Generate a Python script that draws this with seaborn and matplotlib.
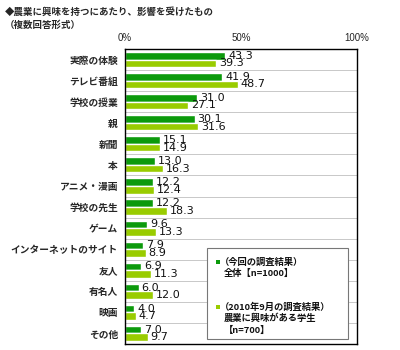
import matplotlib
matplotlib.use("Agg")
import matplotlib.pyplot as plt
import seaborn as sns
import pandas as pd
from matplotlib.patches import Rectangle

categories = ["実際の体験", "テレビ番組", "学校の授業", "親", "新聞", "本", "アニメ・漫画",
              "学校の先生", "ゲーム", "インターネットのサイト", "友人", "有名人", "映画", "その他"]
current = [43.3, 41.9, 31.0, 30.1, 15.1, 13.0, 12.2, 12.2, 9.6, 7.9, 6.9, 6.0, 4.0, 7.0]
previous = [39.3, 48.7, 27.1, 31.6, 14.9, 16.3, 12.4, 18.3, 13.3, 8.9, 11.3, 12.0, 4.7, 9.7]
series_names = ["（今回の調査結果）\n全体【n=1000】",
                "（2010年9月の調査結果）\n農業に興味がある学生\n【n=700】"]
xticks = [0, 50, 100]
xticklabels = ["0%", "50%", "100%"]

sns.set_theme(style="white")
plt.rcParams["font.family"] = ["Noto Sans CJK JP", "DejaVu Sans"]

df = pd.DataFrame({
    "category": categories * 2,
    "value": current + previous,
    "series": [series_names[0]] * len(categories) + [series_names[1]] * len(categories),
})

colors = ["#0C9A0C", "#99CC00"]

W, H = 400, 350
fig = plt.figure(figsize=(4, 3.5), dpi=100)
ax_l, ax_r, ax_t, ax_b = 125, 357, 49, 344
ax = fig.add_axes([ax_l / W, 1 - ax_b / H, (ax_r - ax_l) / W, (ax_b - ax_t) / H])

sns.barplot(data=df, y="category", x="value", hue="series", orient="h",
            palette=colors, width=0.72, ax=ax, legend=False, saturation=1)

for cont in ax.containers:
    ax.bar_label(cont, fmt="%.1f", padding=2, fontsize=8, color="#111111",
                 family="DejaVu Sans")

ax.set_xlim(0, 100)
ax.set_ylim(len(categories) - 0.5, -0.5)
ax.set_xticks(xticks)
ax.set_xticklabels(xticklabels, fontsize=7, family="Liberation Sans")
ax.xaxis.tick_top()
ax.tick_params(axis="x", length=0, pad=4)
ax.tick_params(axis="y", length=0, pad=5)
for lbl in ax.get_yticklabels():
    lbl.set_fontsize(7)
    lbl.set_fontweight("bold")
ax.set_xlabel("")
ax.set_ylabel("")

for i in range(1, len(categories)):
    ax.axhline(i - 0.5, color="#C8C8C8", lw=0.7, zorder=0)

for s in ax.spines.values():
    s.set_visible(True)
    s.set_color("black")
    s.set_linewidth(1)

# legend box drawn by hand (markers aligned with first text line)
def fx(px):
    return (px - ax_l) / (ax_r - ax_l)

def fy(py):
    return (ax_b - py) / (ax_b - ax_t)

box = Rectangle((fx(207), fy(339)), fx(348) - fx(207), fy(248) - fy(339),
                transform=ax.transAxes, facecolor="white", edgecolor="#777777",
                lw=0.8, zorder=5)
ax.add_patch(box)

entry_tops = [262, 307]
line_step = 11.5
for name, col, y0 in zip(series_names, colors, entry_tops):
    lines = name.split("\n")
    ax.add_patch(Rectangle((fx(216), fy(y0 + 2)), fx(220) - fx(216), fy(y0 - 2) - fy(y0 + 2),
                           transform=ax.transAxes, facecolor=col, edgecolor="none",
                           zorder=6))
    for k, line in enumerate(lines):
        x0 = 220 if k == 0 else 224
        ax.text(fx(x0), fy(y0 + k * line_step), line, transform=ax.transAxes,
                fontsize=6.7, fontweight="bold", va="center", ha="left",
                color="#111111", zorder=6)

fig.text(5 / W, 1 - 12 / H, "◆農業に興味を持つにあたり、影響を受けたもの",
         fontsize=6.8, fontweight="bold", va="center", ha="left")
fig.text(5 / W, 1 - 25 / H, "（複数回答形式）",
         fontsize=6.8, fontweight="bold", va="center", ha="left")

fig.savefig("out.png", dpi=100, facecolor="white")
